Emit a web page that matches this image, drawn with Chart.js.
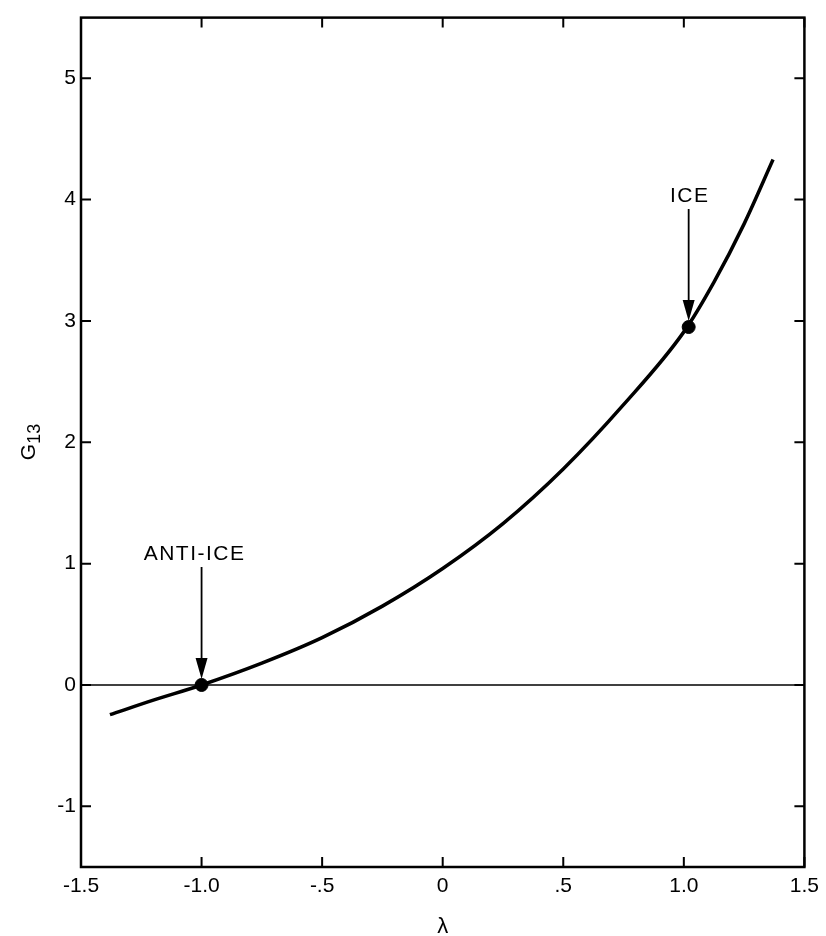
<!DOCTYPE html>
<html>
<head>
<meta charset="utf-8">
<script src="https://cdn.jsdelivr.net/npm/chart.js@4.4.0/dist/chart.umd.min.js"></script>
<style>
    html, body { margin: 0; padding: 0; background: #fff; }
    #wrap { width: 826px; height: 936px; }
</style>
</head>
<body>
<div id="wrap"><canvas id="grafico"></canvas></div>
<script>
// valores
var lambdaValores = [-1.38, -1.2, -1.0, -0.75, -0.5, -0.25, 0, 0.25, 0.5, 0.75, 1.0, 1.125, 1.25, 1.37];
var g13Valores = [-0.245, -0.125, 0, 0.18, 0.39, 0.65, 0.96, 1.33, 1.78, 2.31, 2.91, 3.32, 3.80, 4.33];
var pontosLambda = [-1.0, 1.02];
var pontosG13 = [0, 2.95];
var rotulosPontos = ['ANTI-ICE', 'ICE'];
var linhaZeroLambda = [-1.5, 1.5];
var linhaZeroG13 = [0, 0];
var ticksX = [-1.5, -1.0, -0.5, 0, 0.5, 1.0, 1.5];
var rotulosX = ['-1.5', '-1.0', '-.5', '0', '.5', '1.0', '1.5'];
var ticksY = [-1, 0, 1, 2, 3, 4, 5];
var rotulosY = ['-1', '0', '1', '2', '3', '4', '5'];

var fonte = '"Liberation Sans", Arial, sans-serif';

var molduraPlugin = {
    id: 'moldura',
    afterDatasetsDraw: function (chart) {
        const ctx = chart.ctx;
        const a = chart.chartArea;
        const sx = chart.scales.x;
        const sy = chart.scales.y;

        ctx.save();
        ctx.strokeStyle = '#000';
        ctx.lineWidth = 2.5;
        ctx.strokeRect(a.left, a.top, a.right - a.left, a.bottom - a.top);

        // ticks para dentro nos quatro lados
        ctx.lineWidth = 2;
        ctx.beginPath();
        ticksX.forEach(v => {
            const x = sx.getPixelForValue(v);
            ctx.moveTo(x, a.bottom); ctx.lineTo(x, a.bottom - 10);
            ctx.moveTo(x, a.top); ctx.lineTo(x, a.top + 10);
        });
        ticksY.forEach(v => {
            const y = sy.getPixelForValue(v);
            ctx.moveTo(a.left, y); ctx.lineTo(a.left + 10, y);
            ctx.moveTo(a.right, y); ctx.lineTo(a.right - 10, y);
        });
        ctx.stroke();

        // setas e rotulos
        ctx.fillStyle = '#000';
        ctx.font = '21px ' + fonte;
        ctx.letterSpacing = '1.5px';
        ctx.textAlign = 'center';
        ctx.textBaseline = 'middle';
        pontosLambda.forEach((v, i) => {
            const px = sx.getPixelForValue(v);
            const py = sy.getPixelForValue(pontosG13[i]);
            ctx.lineWidth = 1.8;
            ctx.beginPath();
            ctx.moveTo(px, py - 118);
            ctx.lineTo(px, py - 22);
            ctx.stroke();
            ctx.beginPath();
            ctx.moveTo(px, py - 6);
            ctx.lineTo(px - 6, py - 27);
            ctx.lineTo(px + 6, py - 27);
            ctx.closePath();
            ctx.fill();
            const desloc = i === 0 ? -7 : 1;
            ctx.fillText(rotulosPontos[i], px + desloc, py - 131);
        });
        ctx.letterSpacing = '0px';

        // titulo eixo x
        ctx.font = '22px ' + fonte;
        ctx.fillText('λ', (a.left + a.right) / 2, 927);

        // titulo eixo y: G com subscrito 13
        ctx.translate(29, 442);
        ctx.rotate(-Math.PI / 2);
        ctx.textAlign = 'left';
        ctx.font = '21px ' + fonte;
        const wG = ctx.measureText('G').width;
        ctx.font = '18px ' + fonte;
        const wS = ctx.measureText('13').width;
        const x0 = -(wG + wS) / 2;
        ctx.font = '21px ' + fonte;
        ctx.fillText('G', x0, 0);
        ctx.font = '18px ' + fonte;
        ctx.fillText('13', x0 + wG, 6);
        ctx.restore();
    }
};

var ctx = document.getElementById('grafico').getContext('2d');
var grafico = new Chart(ctx, {
    type: 'scatter',
    data: {
        datasets: [{
            data: lambdaValores.map((v, i) => ({ x: v, y: g13Valores[i] })),
            showLine: true,
            borderColor: '#000',
            borderWidth: 3.5,
            pointRadius: 0,
            cubicInterpolationMode: 'monotone'
        }, {
            data: linhaZeroLambda.map((v, i) => ({ x: v, y: linhaZeroG13[i] })),
            showLine: true,
            borderColor: '#000',
            borderWidth: 1.3,
            pointRadius: 0
        }, {
            data: pontosLambda.map((v, i) => ({ x: v, y: pontosG13[i] })),
            pointRadius: 6.5,
            pointBackgroundColor: '#000',
            pointBorderColor: '#000',
            showLine: false
        }]
    },
    options: {
        responsive: true,
        maintainAspectRatio: false,
        animation: false,
        layout: { padding: { top: 12, right: 11, left: 0, bottom: 0 } },
        plugins: {
            legend: { display: false },
            tooltip: { enabled: false }
        },
        scales: {
            x: {
                type: 'linear',
                min: -1.5,
                max: 1.5,
                grid: { display: false, drawTicks: false },
                border: { display: false },
                afterBuildTicks: s => { s.ticks = ticksX.map(v => ({ value: v })); },
                afterFit: s => { s.height = 69; },
                ticks: {
                    color: '#000',
                    font: { family: fonte, size: 21 },
                    padding: 7,
                    maxRotation: 0,
                    autoSkip: false,
                    callback: v => rotulosX[ticksX.indexOf(v)]
                }
            },
            y: {
                type: 'linear',
                min: -1.5,
                max: 5.5,
                grid: { display: false, drawTicks: false },
                border: { display: false },
                afterBuildTicks: s => { s.ticks = ticksY.map(v => ({ value: v })); },
                afterFit: s => { s.width = 81; },
                ticks: {
                    color: '#000',
                    font: { family: fonte, size: 21 },
                    padding: 5,
                    autoSkip: false,
                    callback: v => rotulosY[ticksY.indexOf(v)]
                }
            }
        }
    },
    plugins: [molduraPlugin]
});
</script>
</body>
</html>
